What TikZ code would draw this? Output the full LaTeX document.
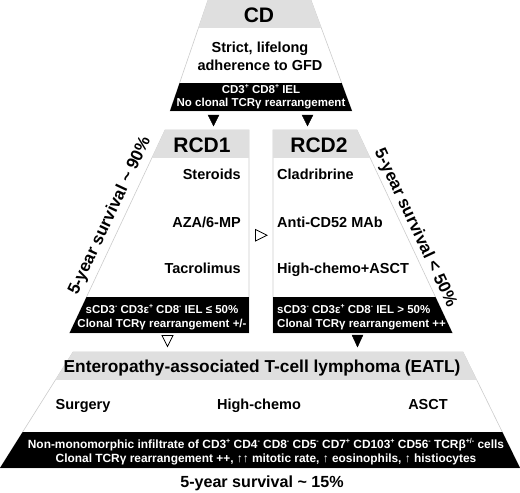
\documentclass[tikz,border=0pt]{standalone}
\usepackage{graphicx}
\usepackage{fontspec}
\setmainfont{Liberation Sans}
\newcommand{\sgn}[1]{\raisebox{0.75ex}{\scalebox{0.6}{#1}}}

\tikzset{
    frame/.style={draw=gray!40, line width=0.6pt, fill=white},
    greyband/.style={fill=gray!25},
    blackband/.style={fill=black},
    head/.style={font=\fontsize{21}{25}\selectfont\bfseries, inner sep=0pt},
    item/.style={font=\fontsize{14.5}{18}\selectfont\bfseries, inner sep=0pt, align=center},
    survival/.style={font=\fontsize{17}{20}\selectfont\bfseries, inner sep=0pt},
    info/.style={font=\fontsize{11.5}{12.5}\selectfont\bfseries, text=white, inner sep=0pt},
    fulltri/.style={fill=black},
    opentri/.style={draw=black, fill=white, line width=0.8pt, line join=miter},
}

\begin{document}
\begin{tikzpicture}[x=1pt, y=-1pt]
    \useasboundingbox (0,0) rectangle (520,493);

    % draw the four trapezoids
    \draw[frame] (208,0) -- (311,0) -- (352,111) -- (170,111) -- cycle;
    \draw[frame] (165,130) -- (249,130) -- (249,333) -- (69.6,333) -- cycle;
    \draw[frame] (273,130) -- (357,130) -- (452.4,333) -- (273,333) -- cycle;
    \draw[frame] (73,352) -- (463,352) -- (520,468) -- (0,468) -- cycle;

    % draw grey and black bands
    \begin{scope}
        \clip (208,0) -- (311,0) -- (352,111) -- (170,111) -- cycle;
        \fill[greyband] (0,0) rectangle (520,28);
        \fill[blackband] (0,83) rectangle (520,111);
    \end{scope}
    \begin{scope}
        \clip (165,130) -- (357,130) -- (452.4,333) -- (69.6,333) -- cycle;
        \fill[greyband] (0,130) rectangle (249,158);
        \fill[greyband] (273,130) rectangle (520,158);
        \fill[blackband] (0,297) rectangle (249,333);
        \fill[blackband] (273,297) rectangle (520,333);
    \end{scope}
    \begin{scope}
        \clip (73,352) -- (463,352) -- (520,468) -- (0,468) -- cycle;
        \fill[greyband] (0,352) rectangle (520,380);
        \fill[blackband] (0,432) rectangle (520,468);
    \end{scope}

    % draw nodes (base anchor = baseline of the last line)
    \node[head, anchor=base] (cd) at (259,22) {CD};
    \node[item, anchor=base] (gfd) at (260,70) {Strict, lifelong\\adherence to GFD};
    \node[info, anchor=base, align=center] (normal) at (261,106)
        {CD3\sgn{+} CD8\sgn{+} IEL\\No clonal TCRγ rearrangement};

    \node[head, anchor=base] (rcd1) at (202,152) {RCD1};
    \node[head, anchor=base] (rcd2) at (319,152) {RCD2};

    \node[item, anchor=base east] (ster) at (241,179) {Steroids};
    \node[item, anchor=base east] (aza) at (241,227) {AZA/6-MP};
    \node[item, anchor=base east] (tacro) at (241,273) {Tacrolimus};
    \node[item, anchor=base west] (cladri) at (277,179) {Cladribrine};
    \node[item, anchor=base west] (antic) at (277,227) {Anti-CD52 MAb};
    \node[item, anchor=base west] (hcasct) at (277,273) {High-chemo+ASCT};

    \node[info, font=\fontsize{11.5}{14}\selectfont\bfseries, anchor=base, align=center] (type1) at (162,327)
        {sCD3\sgn{-} CD3ε\sgn{+} CD8\sgn{-} IEL ≤ 50\%\\Clonal TCRγ rearrangement +/-};
    \node[info, font=\fontsize{11.5}{14}\selectfont\bfseries, anchor=base west, align=left] (type2) at (277,327)
        {sCD3\sgn{-} CD3ε\sgn{+} CD8\sgn{-} IEL > 50\%\\Clonal TCRγ rearrangement ++};

    \node[survival, rotate=64.8] (surv1) at (110,216) {5-year survival \textasciitilde{} 90\%};
    \node[survival, rotate=-64.8] (surv2) at (415,228) {5-year survival < 50\%};

    \node[item, font=\fontsize{17.3}{20}\selectfont\bfseries, anchor=base] (eatl) at (262,372)
        {Enteropathy-associated T-cell lymphoma (EATL)};
    \node[item, anchor=base] (surg) at (83,409) {Surgery};
    \node[item, anchor=base] (hchemo) at (259,409) {High-chemo};
    \node[item, anchor=base] (asct) at (428,409) {ASCT};
    \node[info, font=\fontsize{11.9}{14}\selectfont\bfseries, anchor=base, align=center] (lymph) at (266,462)
        {Non-monomorphic infiltrate of CD3\sgn{+} CD4\sgn{-} CD8\sgn{-} CD5\sgn{-} CD7\sgn{+} CD103\sgn{+} CD56\sgn{-} TCRβ\sgn{+/-} cells\\
         Clonal TCRγ rearrangement ++, ↑↑ mitotic rate, ↑ eosinophils, ↑ histiocytes};
    \node[item, font=\fontsize{16.1}{19}\selectfont\bfseries, anchor=base] (surv3) at (262,487) {5-year survival \textasciitilde{} 15\%};

    % draw triangles
    \draw[fulltri] (208,115) -- (219,115) -- (213.5,126) -- cycle;
    \draw[fulltri] (302,115) -- (313,115) -- (307.5,126) -- cycle;
    \draw[fulltri] (352,335) -- (363,335) -- (357.5,347) -- cycle;
    \draw[opentri] (162,335.5) -- (173,335.5) -- (167.5,346.5) -- cycle;
    \draw[opentri] (255.5,229.5) -- (255.5,241) -- (267,235.25) -- cycle;
\end{tikzpicture}
\end{document}
